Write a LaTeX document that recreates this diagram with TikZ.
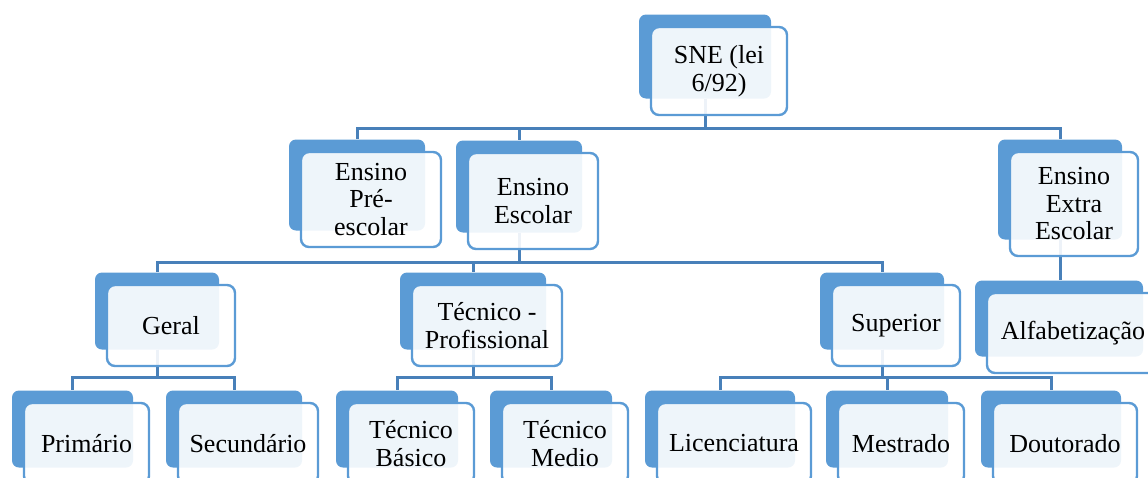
\documentclass[tikz,border=0pt]{standalone}
\usepackage{fontspec}
\setmainfont{Liberation Serif}
\definecolor{accent}{RGB}{91,155,213}
\definecolor{connblue}{RGB}{72,128,185}
\tikzset{
  backbox/.style={fill=accent, rounded corners=7pt, inner sep=0pt},
  frontbox/.style={draw=accent, line width=2.4pt, fill=white, fill opacity=0.9, text opacity=1,
    rounded corners=8pt, inner sep=0pt, align=center, font=\fontsize{26}{27.5}\selectfont},
  conn/.style={draw=connblue, line width=3pt}
}
% name, cx, cy, w, h
\newcommand\orgback[5]{%
  \node[backbox, minimum width=#4pt-4pt, minimum height=#5pt-4pt] (#1-b) at (#2-14,#3-14.5) {};}
\newcommand\orgfront[6]{%
  \node[frontbox, minimum width=#4pt, minimum height=#5pt] (#1) at (#2,#3) {#6};}
\begin{document}
\begin{tikzpicture}[x=1pt,y=-1pt]
\useasboundingbox (0,0) rectangle (1148,477);
\clip (0,0) rectangle (1148,477);
% back boxes
\orgback{sne}{719}{71}{136}{88}
\orgback{pre}{371}{199.5}{140}{95}
\orgback{esc}{533}{201}{130}{96}
\orgback{ext}{1074}{204}{128}{104}
\orgback{ger}{171}{325.5}{128}{81}
\orgback{tp}{487}{325.5}{150}{81}
\orgback{sup}{896}{325.5}{128}{81}
\orgback{alf}{1073}{333}{172}{80}
\orgback{pri}{86.5}{443.5}{125}{81}
\orgback{sec}{248}{443.5}{140}{81}
\orgback{bas}{411}{443.5}{126}{81}
\orgback{med}{565}{443.5}{126}{81}
\orgback{lic}{734}{443.5}{154}{81}
\orgback{mes}{901}{443.5}{126}{81}
\orgback{dou}{1065}{443.5}{144}{81}
% bar levels
\coordinate (bar1) at (0,128);
\coordinate (bar2) at (0,262);
\coordinate (bar3) at (0,377);
% connectors
\draw[conn] (sne-b.south) -- (sne-b.south |- bar1) -| (pre-b.north);
\draw[conn] (sne-b.south) -- (sne-b.south |- bar1) -| (esc-b.north);
\draw[conn] (sne-b.south) -- (sne-b.south |- bar1) -| (ext-b.north);
\draw[conn] (esc-b.south) -- (esc-b.south |- bar2) -| (ger-b.north);
\draw[conn] (esc-b.south) -- (esc-b.south |- bar2) -| (tp-b.north);
\draw[conn] (esc-b.south) -- (esc-b.south |- bar2) -| (sup-b.north);
\draw[conn] (ext-b.south) -- (ext-b.south |- alf-b.north);
\draw[conn] (ger-b.south) -- (ger-b.south |- bar3) -| (pri-b.north);
\draw[conn] (ger-b.south) -- (ger-b.south |- bar3) -| (sec-b.north);
\draw[conn] (tp-b.south) -- (tp-b.south |- bar3) -| (bas-b.north);
\draw[conn] (tp-b.south) -- (tp-b.south |- bar3) -| (med-b.north);
\draw[conn] (sup-b.south) -- (sup-b.south |- bar3) -| (lic-b.north);
\draw[conn] (sup-b.south) -- (sup-b.south |- bar3) -| (mes-b.north);
\draw[conn] (sup-b.south) -- (sup-b.south |- bar3) -| (dou-b.north);
% front boxes
\orgfront{sne}{719}{71}{136}{88}{SNE (lei\\6/92)}
\orgfront{pre}{371}{199.5}{140}{95}{Ensino\\Pré-\\escolar}
\orgfront{esc}{533}{201}{130}{96}{Ensino\\Escolar}
\orgfront{ext}{1074}{204}{128}{104}{Ensino\\Extra\\Escolar}
\orgfront{ger}{171}{325.5}{128}{81}{Geral}
\orgfront{tp}{487}{325.5}{150}{81}{Técnico -\\Profissional}
\orgfront{sup}{896}{325.5}{128}{81}{Superior}
\orgfront{alf}{1073}{333}{172}{80}{Alfabetização}
\orgfront{pri}{86.5}{443.5}{125}{81}{Primário}
\orgfront{sec}{248}{443.5}{140}{81}{Secundário}
\orgfront{bas}{411}{443.5}{126}{81}{Técnico\\Básico}
\orgfront{med}{565}{443.5}{126}{81}{Técnico\\Medio}
\orgfront{lic}{734}{443.5}{154}{81}{Licenciatura}
\orgfront{mes}{901}{443.5}{126}{81}{Mestrado}
\orgfront{dou}{1065}{443.5}{144}{81}{Doutorado}
\end{tikzpicture}
\end{document}
